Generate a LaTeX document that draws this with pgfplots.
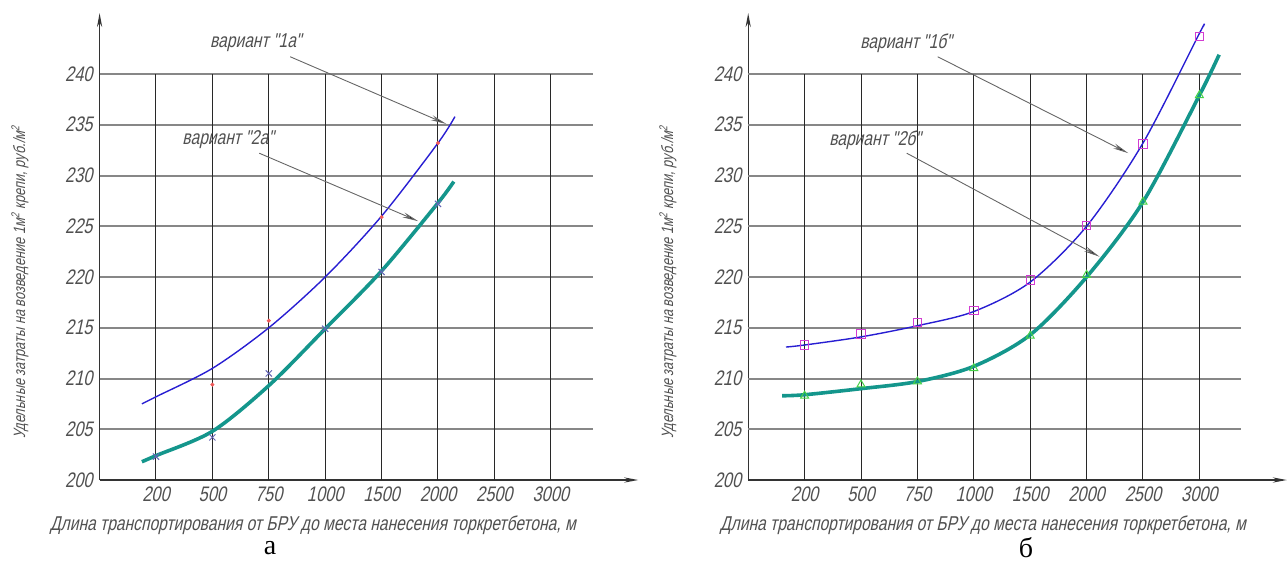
\documentclass[border=0pt]{standalone}
\usepackage{pgfplots}
\pgfplotsset{compat=1.18}
\usepackage{fontspec}
\usetikzlibrary{arrows.meta}
\newfontfamily\gost[FakeSlant=0.22,FakeStretch=0.78]{Liberation Sans}
\newfontfamily\timesf{Liberation Serif}
\definecolor{blueline}{RGB}{40,30,210}
\definecolor{tealline}{RGB}{20,150,140}
\definecolor{xmark}{RGB}{100,100,180}
\definecolor{redmark}{RGB}{240,90,90}
\definecolor{sqmark}{RGB}{210,60,210}
\definecolor{trimark}{RGB}{70,210,70}
\definecolor{gridh}{RGB}{135,135,135}
\definecolor{gridv}{RGB}{40,40,40}
\definecolor{txt}{RGB}{80,80,80}

\tikzset{
  annot/.style={font=\gost\fontsize{10}{12}\selectfont, text=txt},
  arr/.style={draw=black!60, line width=0.45pt, -{Stealth[length=8pt,width=2.6pt,fill=black]}},
}
\pgfplotsset{
  gostax/.style={
    scale only axis, width=269.3pt, height=233.45pt,
    xmin=0, xmax=9.55, ymin=200, ymax=246,
    axis x line=bottom, axis y line=left,
    axis line style={draw=black!80, line width=0.7pt},
    x axis line style={-{Stealth[length=7pt,width=2.6pt]}},
    y axis line style={-{Stealth[length=7pt,width=2.6pt]}},
    xtick={1,2,3,4,5,6,7,8},
    xticklabels={200,500,750,1000,1500,2000,2500,3000},
    ytick={200,205,210,215,220,225,230,235,240},
    major tick length=0pt,
    tick style={draw=none},
    ticklabel style={font=\gost\fontsize{10.5}{12}\selectfont, text=txt},
    /pgf/number format/assume math mode=true,
    clip=false,
  },
}

\begin{document}
\begin{tikzpicture}[x=1pt,y=1pt]
\useasboundingbox (0,0) rectangle (644,282);

% ---------- chart a ----------
\begin{axis}[gostax, at={(49.8pt,42pt)}, anchor=south west]
\pgfplotsinvokeforeach{205,210,215,220,225,230,235,240}{
  \draw[gridh, line width=1pt] (axis cs:0,#1) -- (axis cs:8.74,#1);
}
\pgfplotsinvokeforeach{1,2,3,4,5,6,7,8}{
  \draw[gridv, line width=0.5pt] (axis cs:#1,200) -- (axis cs:#1,240);
}
\addplot[only marks, mark=*, mark size=0.8pt, redmark] coordinates {
 (2,209.4) (3,215.7) (5,225.9) (6,233.2)};
\addplot[only marks, mark=x, mark size=2.2pt, xmark, line width=0.5pt] coordinates {
 (1,202.3) (2,204.2) (3,210.5) (4,214.9) (5,220.5) (6,227.2)};
\addplot[blueline, line width=0.7pt, smooth] coordinates {
 (0.75,207.5) (1,208.2) (2,211.0) (3,215.0) (4,220.0) (5,226.0) (6,233.2) (6.3,235.8)};
\addplot[tealline, line width=1.8pt, smooth] coordinates {
 (0.75,201.8) (1,202.4) (2,204.8) (3,209.3) (4,214.9) (5,220.6) (6,227.3) (6.28,229.4)};
\node[annot] at (axis cs:2.77,243.05) {вариант "1а"};
\draw[arr] (axis cs:3.38,241.7) -- (axis cs:6.15,235.07);
\node[annot] at (axis cs:2.28,233.5) {вариант "2а"};
\draw[arr] (axis cs:2.83,232.2) -- (axis cs:5.65,225.5);
\end{axis}

% ---------- chart b ----------
\begin{axis}[gostax, at={(374.1pt,42pt)}, anchor=south west]
\pgfplotsinvokeforeach{205,210,215,220,225,230,235,240}{
  \draw[gridh, line width=1pt] (axis cs:0,#1) -- (axis cs:8.74,#1);
}
\pgfplotsinvokeforeach{1,2,3,4,5,6,7,8}{
  \draw[gridv, line width=0.5pt] (axis cs:#1,200) -- (axis cs:#1,240);
}
\addplot[only marks, mark=square, mark size=2.1pt, sqmark, line width=0.5pt] coordinates {
 (1,213.3) (2,214.4) (3,215.5) (4,216.7) (5,219.7) (6,225.1) (7,233.1) (8,243.7)};
\addplot[only marks, mark=triangle, mark size=2.3pt, trimark, line width=0.5pt] coordinates {
 (1,208.3) (2,209.4) (3,209.7) (4,211.0) (5,214.2) (6,220.2) (7,227.4) (8,237.9)};
\addplot[blueline, line width=0.7pt, smooth] coordinates {
 (0.67,213.1) (1,213.3) (2,214.1) (3,215.2) (4,216.6) (5,219.5) (6,225.0) (7,233.2) (8,244.0) (8.07,244.7)};
\addplot[tealline, line width=1.8pt, smooth] coordinates {
 (0.6,208.3) (1,208.4) (2,209.0) (3,209.7) (4,211.2) (5,214.3) (6,220.0) (7,227.4) (8,237.9) (8.35,241.9)};
\node[annot] at (axis cs:2.80,243.05) {вариант "1б"};
\draw[arr] (axis cs:3.36,241.7) -- (axis cs:6.74,232.2);
\node[annot] at (axis cs:2.25,233.5) {вариант "2б"};
\draw[arr] (axis cs:2.81,232.2) -- (axis cs:6.23,222.0);
\end{axis}

% ---------- titles ----------
\node[rotate=90, font=\gost\fontsize{8.2}{10}\selectfont, text=txt] at (10,141)
  {Удельные затраты на возведение 1м\textsuperscript{2} крепи, руб./м\textsuperscript{2}};
\node[rotate=90, font=\gost\fontsize{8.2}{10}\selectfont, text=txt] at (334,141)
  {Удельные затраты на возведение 1м\textsuperscript{2} крепи, руб./м\textsuperscript{2}};
\node[font=\gost\fontsize{10}{12}\selectfont, text=txt] at (156.5,19.5)
  {Длина транспортирования от БРУ до места нанесения торкретбетона, м};
\node[font=\gost\fontsize{10}{12}\selectfont, text=txt] at (491.5,19.5)
  {Длина транспортирования от БРУ до места нанесения торкретбетона, м};
\node[font=\timesf\fontsize{14}{16}\selectfont] at (135,8) {а};
\node[font=\timesf\fontsize{14}{16}\selectfont] at (513,8) {б};
\end{tikzpicture}
\end{document}
